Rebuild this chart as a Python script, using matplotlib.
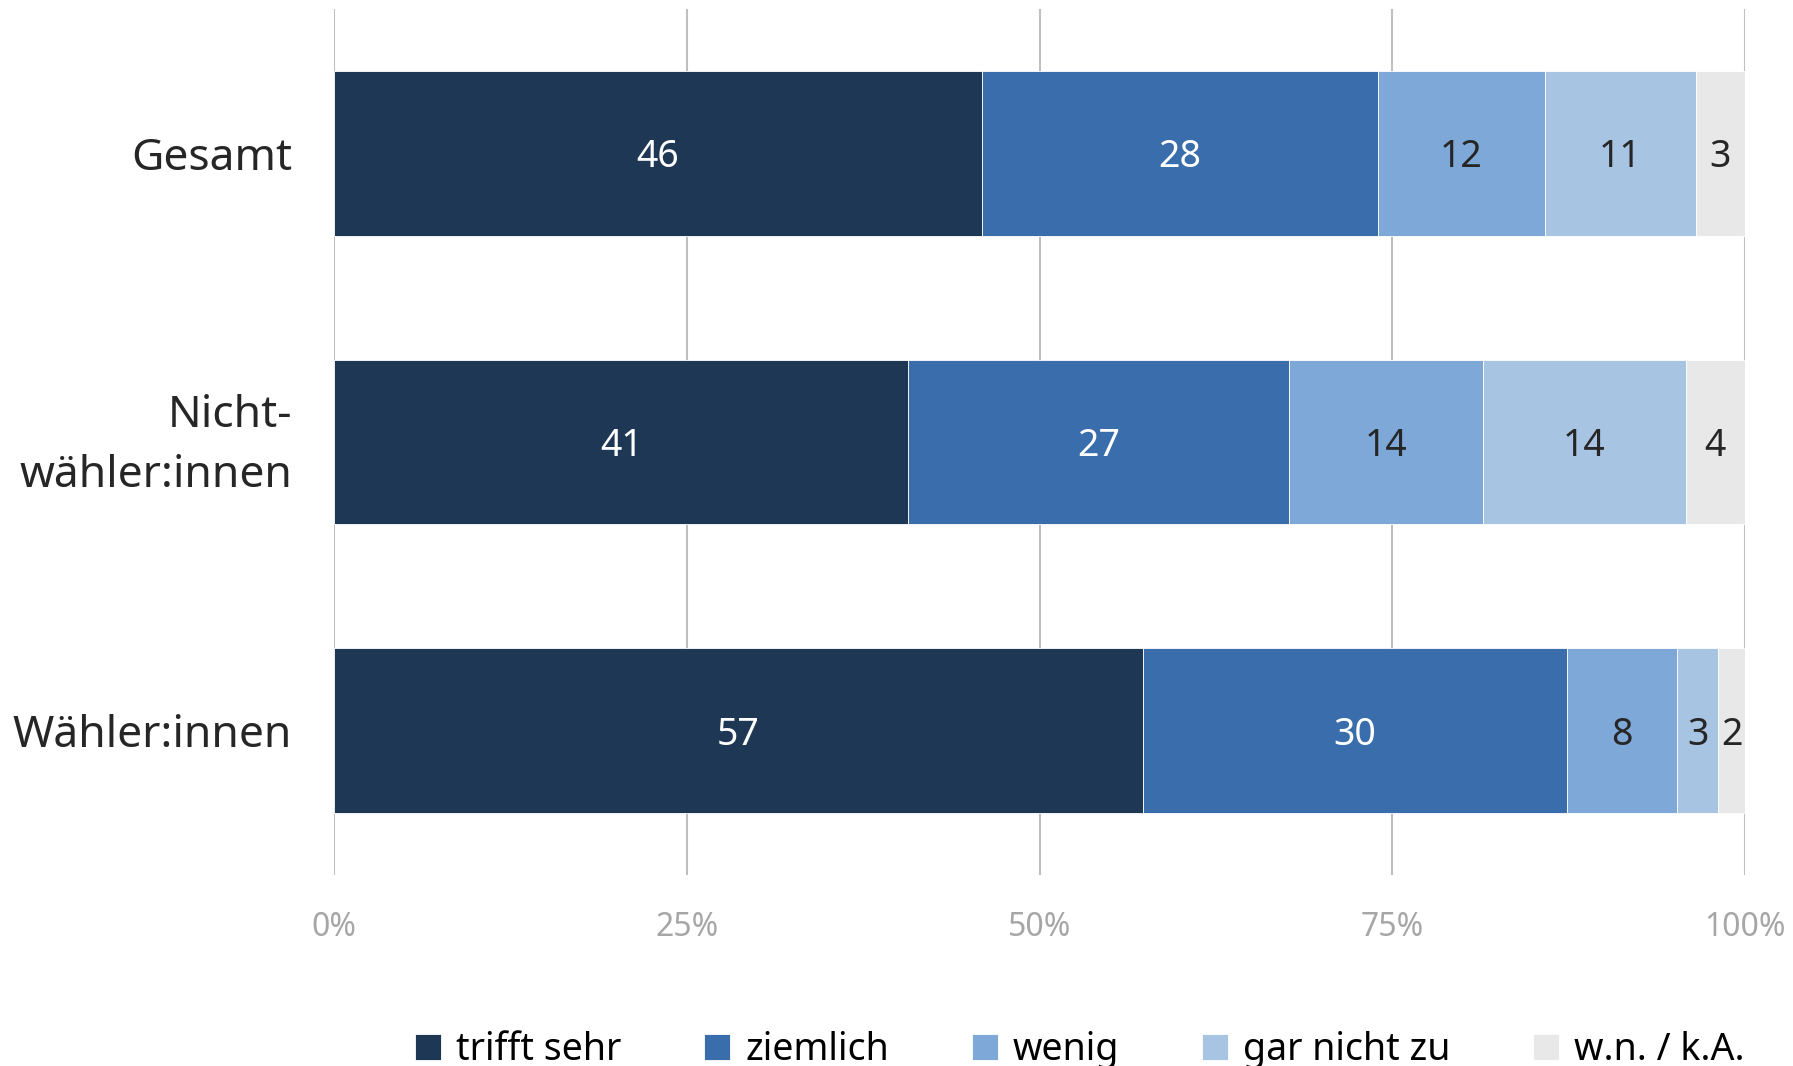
import matplotlib.pyplot as plt
import numpy as np

plt.rcParams['font.family'] = ['Noto Sans', 'DejaVu Sans']

groups = ["Gesamt", "Nicht-\nwähler:innen", "Wähler:innen"]
answers = ["trifft sehr", "ziemlich", "wenig", "gar nicht zu", "w.n. / k.A."]

# shares per group (percent), in order of answers
gesamt = [45.9, 28.1, 11.8, 10.7, 3.5]
nichtwaehler = [40.7, 27.0, 13.7, 14.4, 4.2]
waehler = [57.3, 30.1, 7.8, 2.9, 1.9]

# printed labels (rounded values as shown)
gesamt_lbl = ["46", "28", "12", "11", "3"]
nichtwaehler_lbl = ["41", "27", "14", "14", "4"]
waehler_lbl = ["57", "30", "8", "3", "2"]

colors = ["#1e3755", "#396dab", "#7ea8d8", "#a8c4e3", "#e8e8e8"]
text_colors = ["white", "white", "#262626", "#262626", "#262626"]

data = np.array([gesamt, nichtwaehler, waehler])
labels = [gesamt_lbl, nichtwaehler_lbl, waehler_lbl]

fig = plt.figure(figsize=(17.93, 10.66), dpi=100)
ax = fig.add_axes([334 / 1793, 1 - 875 / 1066, (1745 - 334) / 1793, (875 - 9) / 1066])

y = np.arange(len(groups))
left = np.zeros(len(groups))
for j, ans in enumerate(answers):
    vals = data[:, j]
    ax.barh(y, vals, left=left, height=0.57, color=colors[j], label=ans,
            edgecolor="white", linewidth=0.6, zorder=2)
    for i in range(len(groups)):
        ax.text(left[i] + vals[i] / 2, y[i] + 0.014, labels[i][j], ha="center", va="center",
                fontsize=27, color=text_colors[j], zorder=3)
    left += vals

ax.set_xlim(0, 100)
ax.set_ylim(2.5, -0.5)
ax.set_yticks(y)
ax.set_yticklabels([])
# group names drawn as text so the two-line one sits right
for i, g in enumerate(groups):
    two_lines = "\n" in g
    ax.annotate(g, xy=(0, y[i]), xycoords=("axes fraction", "data"),
                xytext=(-30, -3 if two_lines else 0), textcoords="offset points",
                ha="right", va="center" if two_lines else "center_baseline",
                fontsize=32, color="#262626", linespacing=1.5, annotation_clip=False)
ax.set_xticks([0, 25, 50, 75, 100])
ax.set_xticklabels(["0%", "25%", "50%", "75%", "100%"], fontsize=23, color="#a6a6a6")
ax.tick_params(axis="y", length=0)
ax.tick_params(axis="x", length=0, pad=26)
ax.grid(axis="x", color="#bfbfbf", linewidth=1.5, zorder=0)
ax.set_axisbelow(True)
for s in ax.spines.values():
    s.set_visible(False)

fig.legend(loc="center", bbox_to_anchor=(1080 / 1793, 1 - 1050 / 1066), ncol=5,
           frameon=False, fontsize=27, handlelength=0.7, handleheight=0.7,
           handletextpad=0.4, columnspacing=2.2)

fig.savefig("out.png", dpi=100)
